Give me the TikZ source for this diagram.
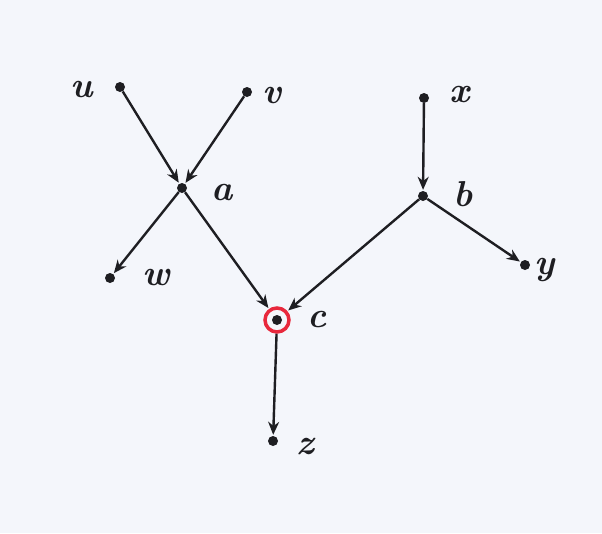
\documentclass[tikz,border=0pt]{standalone}
\usetikzlibrary{arrows.meta}
\definecolor{bg}{HTML}{F4F6FB}
\definecolor{ink}{HTML}{1E1E22}
\definecolor{redring}{HTML}{E8283C}
\begin{document}
\begin{tikzpicture}[x=1pt,y=-1pt,
  vdot/.style={circle,fill=ink,inner sep=0pt,minimum size=10pt},
  lbl/.style={text=ink,font=\fontsize{36}{38}\selectfont\itshape\bfseries},
  edge/.style={draw=ink,line width=2.4pt,-{Stealth[length=13pt,width=11pt]},shorten >=1pt}]
\fill[bg] (0,0) rectangle (602,533);
\useasboundingbox (0,0) rectangle (602,533);
\node[vdot] (u) at (120,87) {};
\node[vdot] (v) at (247,92) {};
\node[vdot] (x) at (424,98) {};
\node[vdot] (a) at (182,188) {};
\node[vdot] (b) at (423,196) {};
\node[vdot] (w) at (110,278) {};
\node[vdot] (y) at (525,265) {};
\node[vdot] (c) at (277,320) {};
\node[circle,draw=redring,line width=3.5pt,minimum size=24pt,inner sep=0pt] (cr) at (c) {};
\node[vdot] (z) at (273,441) {};
\node[lbl] (lu) at (82,90) {u};
\node[lbl] (lv) at (272,95) {v};
\node[lbl] (lx) at (460,95) {x};
\node[lbl] (la) at (222,193) {a};
\node[lbl] (lb) at (463,194) {b};
\node[lbl] (lw) at (156,277) {w};
\node[lbl] (ly) at (545,270) {y};
\node[lbl] (lc) at (317,320) {c};
\node[lbl] (lz) at (305,447) {z};
\draw[edge] (u) -- (a);
\draw[edge] (v) -- (a);
\draw[edge] (a) -- (w);
\draw[edge] (a) -- (cr);
\draw[edge] (x) -- (b);
\draw[edge] (b) -- (cr);
\draw[edge] (b) -- (y);
\draw[edge] (cr) -- (z);
\end{tikzpicture}
\end{document}
